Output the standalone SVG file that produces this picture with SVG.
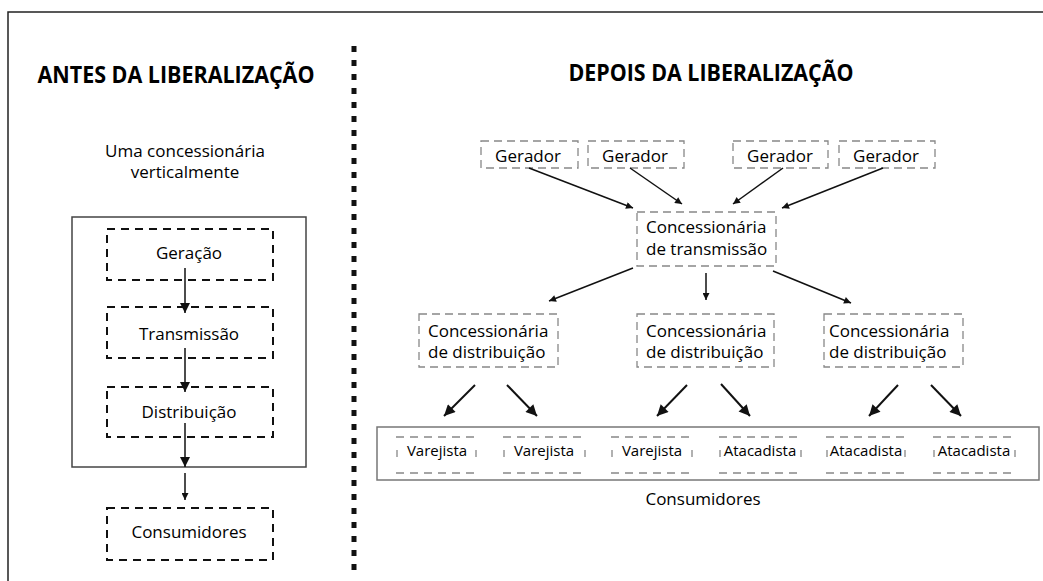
<svg xmlns="http://www.w3.org/2000/svg" width="1043" height="581" viewBox="0 0 1043 581">
<style>
text{font-family:"Open Sans","Noto Sans","Liberation Sans",sans-serif;fill:#000}
.h{font-size:24px;font-weight:bold}
.t{font-size:17px}
.s{font-size:15px}
.ld{fill:none;stroke:#111;stroke-width:2;stroke-dasharray:8 6}
.rd{fill:none;stroke:#888;stroke-width:1.3;stroke-dasharray:8 5}
.cd{fill:none;stroke:#888;stroke-width:1.3;stroke-dasharray:8 6}
.tick{stroke:#888;stroke-width:1.3}
.ln{stroke:#111;stroke-width:1.5;fill:none}
.lnb{stroke:#111;stroke-width:2;fill:none}
</style>
<defs>
<marker id="ah" viewBox="0 0 10 10" refX="10" refY="5" markerUnits="userSpaceOnUse" markerWidth="10" markerHeight="10" orient="auto"><path d="M0,0 L10,5 L0,10 z" fill="#111"/></marker>
<marker id="as" viewBox="0 0 10 10" refX="10" refY="5" markerUnits="userSpaceOnUse" markerWidth="8" markerHeight="7" orient="auto"><path d="M0,0 L10,5 L0,10 z" fill="#111"/></marker>
<marker id="ab" viewBox="0 0 10 10" refX="10" refY="5" markerUnits="userSpaceOnUse" markerWidth="13" markerHeight="11" orient="auto"><path d="M0,0 L10,5 L0,10 z" fill="#111"/></marker>
</defs>
<rect width="1043" height="581" fill="#fff"/>
<path d="M8,581 L8,12 L1043,12" fill="none" stroke="#222" stroke-width="1.5"/>
<line x1="354" y1="46" x2="354" y2="570" stroke="#111" stroke-width="5" stroke-dasharray="6 8"/>

<g id="titles">
<text class="h" x="176" y="83" text-anchor="middle" textLength="277" lengthAdjust="spacingAndGlyphs">ANTES DA LIBERALIZAÇÃO</text>
<text class="h" x="711" y="81" text-anchor="middle" textLength="285" lengthAdjust="spacingAndGlyphs">DEPOIS DA LIBERALIZAÇÃO</text>
<text class="t" x="185" y="157" text-anchor="middle">Uma concessionária</text>
<text class="t" x="185" y="178" text-anchor="middle">verticalmente</text>
</g>

<g id="vertical-utility"><rect x="72" y="217" width="234" height="250" fill="none" stroke="#444" stroke-width="1.5"/></g>
<g id="geracao"><rect class="ld" x="107" y="229" width="166" height="51"/><text class="t" x="189" y="259" text-anchor="middle">Geração</text></g>
<g id="transmissao"><rect class="ld" x="107" y="307" width="166" height="51"/><text class="t" x="189" y="340" text-anchor="middle">Transmissão</text></g>
<g id="distribuicao"><rect class="ld" x="107" y="387" width="166" height="50"/><text class="t" x="189" y="418" text-anchor="middle">Distribuição</text></g>
<g id="consumidores-left"><rect class="ld" x="107" y="508" width="166" height="52"/><text class="t" x="189" y="538" text-anchor="middle">Consumidores</text></g>

<g id="gerador1"><rect class="rd" x="481" y="141" width="97" height="27"/><text class="t" x="528" y="162" text-anchor="middle">Gerador</text></g>
<g id="gerador2"><rect class="rd" x="588" y="141" width="96" height="27"/><text class="t" x="635" y="162" text-anchor="middle">Gerador</text></g>
<g id="gerador3"><rect class="rd" x="733" y="141" width="95" height="27"/><text class="t" x="780" y="162" text-anchor="middle">Gerador</text></g>
<g id="gerador4"><rect class="rd" x="839" y="141" width="96" height="27"/><text class="t" x="886" y="162" text-anchor="middle">Gerador</text></g>

<g id="conc-transmissao"><rect class="rd" x="637" y="212" width="139" height="54"/><text class="t" x="646" y="233">Concessionária</text><text class="t" x="646" y="255">de transmissão</text></g>
<g id="conc-dist1"><rect class="rd" x="419" y="314" width="139" height="53"/><text class="t" x="428" y="337">Concessionária</text><text class="t" x="428" y="358">de distribuição</text></g>
<g id="conc-dist2"><rect class="rd" x="637" y="314" width="137" height="53"/><text class="t" x="646" y="337">Concessionária</text><text class="t" x="646" y="358">de distribuição</text></g>
<g id="conc-dist3"><rect class="rd" x="824" y="314" width="139" height="53"/><text class="t" x="829" y="337">Concessionária</text><text class="t" x="829" y="358">de distribuição</text></g>

<g id="consumidores-right"><rect x="377" y="427" width="662" height="53" fill="none" stroke="#777" stroke-width="1.5"/><text class="t" x="703" y="505" text-anchor="middle">Consumidores</text></g>
<g id="varejista1"><path class="cd" d="M396,437 H477 M396,473 H477"/><path class="tick" d="M397,450 V457 M476,450 V457"/><text class="s" x="437" y="456" text-anchor="middle">Varejista</text></g>
<g id="varejista2"><path class="cd" d="M503,437 H586 M503,473 H586"/><path class="tick" d="M504,450 V457 M585,450 V457"/><text class="s" x="544" y="456" text-anchor="middle">Varejista</text></g>
<g id="varejista3"><path class="cd" d="M611,437 H693 M611,473 H693"/><path class="tick" d="M612,450 V457 M692,450 V457"/><text class="s" x="652" y="456" text-anchor="middle">Varejista</text></g>
<g id="atacadista1"><path class="cd" d="M719,437 H802 M719,473 H802"/><path class="tick" d="M720,450 V457 M801,450 V457"/><text class="s" x="760" y="456" text-anchor="middle">Atacadista</text></g>
<g id="atacadista2"><path class="cd" d="M826,437 H906 M826,473 H906"/><path class="tick" d="M827,450 V457 M905,450 V457"/><text class="s" x="866" y="456" text-anchor="middle">Atacadista</text></g>
<g id="atacadista3"><path class="cd" d="M933,437 H1016 M933,473 H1016"/><path class="tick" d="M934,450 V457 M1015,450 V457"/><text class="s" x="974" y="456" text-anchor="middle">Atacadista</text></g>

<g id="connectors">
<line class="ln" x1="185" y1="268" x2="185" y2="313" marker-end="url(#ah)"/>
<line class="ln" x1="185" y1="348" x2="185" y2="392" marker-end="url(#ah)"/>
<line class="ln" x1="185" y1="423" x2="185" y2="467" marker-end="url(#ah)"/>
<line class="ln" x1="185" y1="473" x2="185" y2="500" marker-end="url(#as)"/>
<line class="ln" x1="529" y1="168" x2="633" y2="208" marker-end="url(#as)"/>
<line class="ln" x1="630" y1="168" x2="682" y2="204" marker-end="url(#as)"/>
<line class="ln" x1="783" y1="168" x2="733" y2="204" marker-end="url(#as)"/>
<line class="ln" x1="883" y1="168" x2="782" y2="208" marker-end="url(#as)"/>
<line class="ln" x1="633" y1="268" x2="549" y2="301" marker-end="url(#as)"/>
<line class="ln" x1="706" y1="273" x2="706" y2="300" marker-end="url(#as)"/>
<line class="ln" x1="773" y1="271" x2="851" y2="303" marker-end="url(#as)"/>
<line class="lnb" x1="475" y1="385" x2="444" y2="416" marker-end="url(#ab)"/>
<line class="lnb" x1="507" y1="385" x2="537" y2="416" marker-end="url(#ab)"/>
<line class="lnb" x1="687" y1="385" x2="657" y2="416" marker-end="url(#ab)"/>
<line class="lnb" x1="721" y1="384" x2="750" y2="416" marker-end="url(#ab)"/>
<line class="lnb" x1="898" y1="385" x2="869" y2="416" marker-end="url(#ab)"/>
<line class="lnb" x1="931" y1="385" x2="961" y2="416" marker-end="url(#ab)"/>
</g>
</svg>
